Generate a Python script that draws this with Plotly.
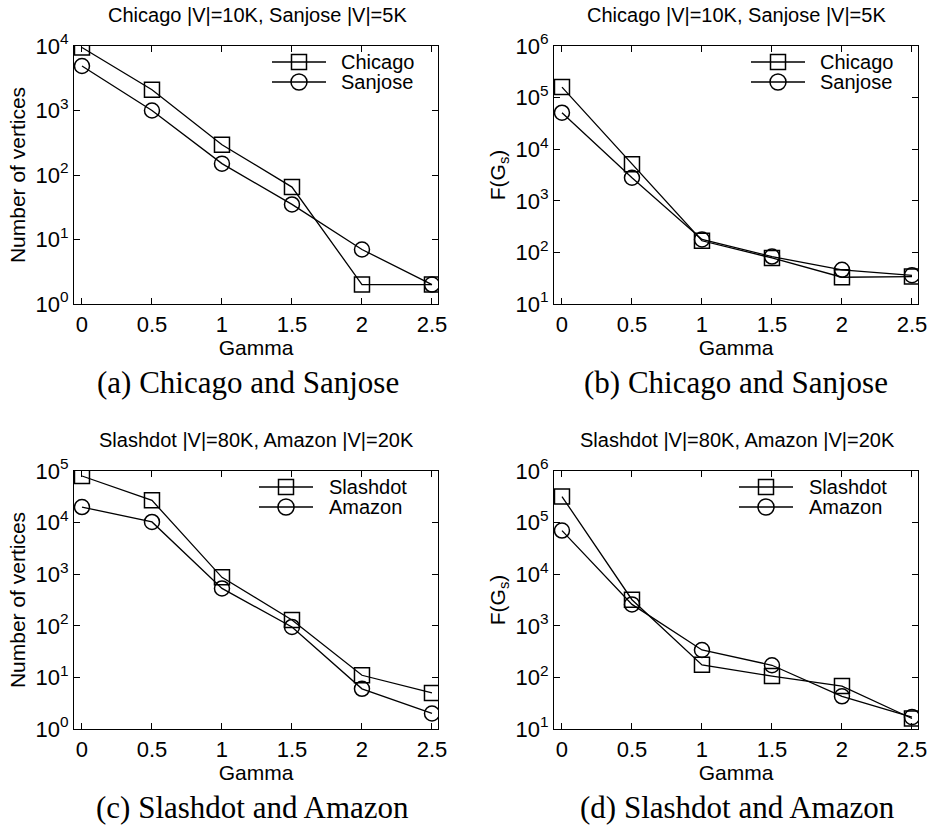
import plotly.graph_objects as go

gamma = [0, 0.5, 1, 1.5, 2, 2.5]
gamma_labels = ["0", "0.5", "1", "1.5", "2", "2.5"]

chicago_vertices = [9500, 2100, 295, 65, 2, 2]
sanjose_vertices = [4900, 1000, 150, 35, 7, 2]
chicago_f = [160000, 5100, 168, 78, 33, 34]
sanjose_f = [51000, 2800, 178, 83, 46, 36]
slashdot_vertices = [80000, 27000, 870, 130, 11, 5]
amazon_vertices = [20000, 10300, 530, 95, 6, 2]
slashdot_f = [320000, 3200, 175, 106, 68, 16]
amazon_f = [70000, 2600, 340, 172, 43, 17]

titles = ["Chicago |V|=10K, Sanjose |V|=5K", "Chicago |V|=10K, Sanjose |V|=5K",
          "Slashdot |V|=80K, Amazon |V|=20K", "Slashdot |V|=80K, Amazon |V|=20K"]
captions = ["(a) Chicago and Sanjose", "(b) Chicago and Sanjose",
            "(c) Slashdot and Amazon", "(d) Slashdot and Amazon"]
ytitles = ["Number of vertices", "F(G<sub>s</sub>)", "Number of vertices", "F(G<sub>s</sub>)"]
yranges = [(0, 4), (1, 6), (0, 5), (1, 6)]

series = [
    [("Chicago", chicago_vertices, "square"), ("Sanjose", sanjose_vertices, "circle")],
    [("Chicago", chicago_f, "square"), ("Sanjose", sanjose_f, "circle")],
    [("Slashdot", slashdot_vertices, "square"), ("Amazon", amazon_vertices, "circle")],
    [("Slashdot", slashdot_f, "square"), ("Amazon", amazon_f, "circle")],
]

# ---- layout geometry (pixels in the 930x825 window) ----
W, H = 930, 825
panels = [  # x0, x1, ytop, ybottom
    (74, 438, 46, 304),
    (554, 918, 46, 304),
    (74, 438, 471, 729),
    (554, 918, 471, 729),
]
caption_cx = [248, 736, 252, 737]
title_cx = [257, 736, 256, 737]
legend_line_dx = [-166, -167, -179, -179]   # from panel right edge
legend_text_dx = [-99, -100, -111, -111]


def px(x):
    return x / W


def py(y):
    return 1 - y / H


SANS = "Liberation Sans, Arial, sans-serif"
SERIF = "Liberation Serif, Times New Roman, serif"

fig = go.Figure()
layout = dict(width=W, height=H, margin=dict(l=0, r=0, t=0, b=0, autoexpand=False),
              paper_bgcolor="white", plot_bgcolor="white", showlegend=False,
              font=dict(family=SANS, color="black"), annotations=[], shapes=[])

for i, (x0, x1, yt, yb) in enumerate(panels):
    n = "" if i == 0 else str(i + 1)
    xd = [px(x0), px(x1)]
    yd = [py(yb), py(yt)]
    for name, vals, sym in series[i]:
        fig.add_trace(go.Scatter(
            x=gamma, y=vals, name=name, mode="lines+markers",
            line=dict(color="black", width=1.3),
            marker=dict(symbol=sym + "-open", size=15,
                        color="black", line=dict(width=1.5, color="black")),
            xaxis="x" + n, yaxis="y" + n))
    lo, hi = yranges[i]
    tv = [10 ** k for k in range(lo, hi + 1)]
    tt = [f"10<sup>{k}</sup>" for k in range(lo, hi + 1)]
    layout["xaxis" + n] = dict(
        domain=xd, anchor="y" + n, range=[-0.057, 2.543], automargin=False,
        tickvals=gamma, ticktext=gamma_labels, ticks="inside", ticklen=6,
        tickcolor="black", showline=True, linecolor="black", linewidth=1.2,
        mirror="ticks", showgrid=False, zeroline=False,
        tickfont=dict(size=22, family=SANS),
        title=dict(text="Gamma", font=dict(size=21, family=SANS), standoff=4))
    layout["yaxis" + n] = dict(
        domain=yd, anchor="x" + n, type="log", range=[lo, hi], automargin=False,
        tickvals=tv, ticktext=tt, ticks="inside", ticklen=6,
        tickcolor="black", showline=True, linecolor="black", linewidth=1.2,
        mirror="ticks", showgrid=False, zeroline=False,
        tickfont=dict(size=22, family=SANS),
        title=dict(text=ytitles[i], font=dict(size=21, family=SANS), standoff=4))

    # manual legend (key lines, key markers, labels)
    lx0 = x1 + legend_line_dx[i]
    lx1 = lx0 + 54
    mx = (lx0 + lx1) / 2
    for k, (name, vals, sym) in enumerate(series[i]):
        ly = yt + 16 + 20 * k
        layout["shapes"].append(dict(
            type="line", xref="paper", yref="paper", x0=px(lx0), x1=px(lx1),
            y0=py(ly), y1=py(ly), line=dict(color="black", width=1.3)))
        half = 7.5 if sym == "square" else 8
        layout["shapes"].append(dict(
            type="rect" if sym == "square" else "circle", xref="paper", yref="paper",
            x0=px(mx - half), x1=px(mx + half), y0=py(ly + half), y1=py(ly - half),
            line=dict(color="black", width=1.5), fillcolor="rgba(0,0,0,0)"))
        layout["annotations"].append(dict(
            text=name, xref="paper", yref="paper", x=px(x1 + legend_text_dx[i]),
            y=py(ly), xanchor="left", yanchor="middle", showarrow=False,
            font=dict(size=20, family=SANS)))

    layout["annotations"].append(dict(
        text=titles[i], xref="paper", yref="paper", x=px(title_cx[i]), y=py(yt - 31),
        xanchor="center", yanchor="middle", showarrow=False,
        font=dict(size=20, family=SANS)))
    layout["annotations"].append(dict(
        text=captions[i], xref="paper", yref="paper", x=px(caption_cx[i]),
        y=py(yb + 78), xanchor="center", yanchor="middle", showarrow=False,
        font=dict(size=31, family=SERIF)))

fig.update_layout(**layout)
fig.write_html(
    "out.html",
    config={"displayModeBar": False},
    post_script="document.body.style.margin='0px';document.body.style.overflow='hidden';",
)
